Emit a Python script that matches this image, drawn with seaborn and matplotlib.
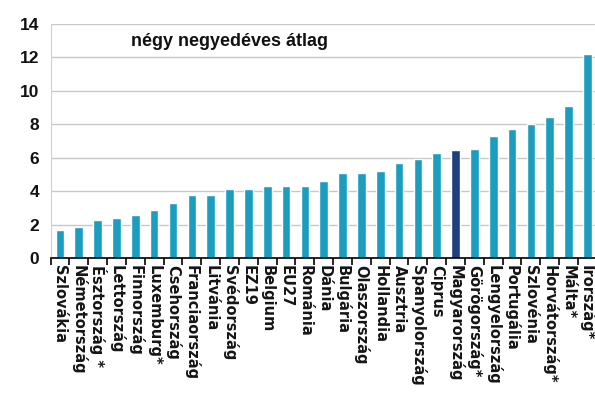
import numpy as np
import pandas as pd
import matplotlib
matplotlib.use("Agg")
import matplotlib.pyplot as plt
from matplotlib.ticker import MultipleLocator, FixedLocator
import seaborn as sns

countries = [
    "Szlovákia", "Németország", "Észtország *", "Lettország", "Finnország",
    "Luxemburg*", "Csehország", "Franciaország", "Litvánia", "Svédország",
    "EZ19", "Belgium", "EU27", "Románia", "Dánia", "Bulgária", "Olaszország",
    "Hollandia", "Ausztria", "Spanyolország", "Ciprus", "Magyarország",
    "Görögország*", "Lengyelország", "Portugália", "Szlovénia",
    "Horvátország*", "Málta*", "Írország*",
]
values = [
    1.65, 1.85, 2.3, 2.4, 2.6, 2.9, 3.3, 3.75, 3.75, 4.1,
    4.1, 4.3, 4.3, 4.3, 4.6, 5.1, 5.1, 5.2, 5.7, 5.95,
    6.25, 6.45, 6.5, 7.3, 7.7, 8.0, 8.45, 9.1, 12.2,
]
highlight = "Magyarország"
title = "négy negyedéves átlag"

base_color = "#1b9dc0"
hl_color = "#1e3f80"

df = pd.DataFrame({"country": countries, "value": values})
palette = {c: (hl_color if c == highlight else base_color) for c in countries}

sns.set_style("white")
plt.rcParams["font.family"] = ["Liberation Sans", "DejaVu Sans"]

fig = plt.figure(figsize=(5.95, 3.97), dpi=100)
ax = fig.add_axes([0.085, 0.350, 0.918, 0.590])

sns.barplot(data=df, x="country", y="value", hue="country", palette=palette,
            width=0.46, legend=False, ax=ax, saturation=1)

ax.set_xlim(-0.5, len(countries) - 0.5)
ax.set_ylim(0, 14)
ax.yaxis.set_major_locator(MultipleLocator(2))
ax.grid(axis="y", color="#c8c8c8", linewidth=1.0)
ax.set_axisbelow(True)

for side in ["top", "right"]:
    ax.spines[side].set_visible(False)
ax.spines["left"].set_color("#d0d0d0")
ax.spines["bottom"].set_color("black")
ax.spines["bottom"].set_linewidth(1.2)

ax.set_xlabel("")
ax.set_ylabel("")

# category separators as outward ticks
ax.xaxis.set_minor_locator(FixedLocator(np.arange(-0.5, len(countries), 1.0)))
ax.tick_params(axis="x", which="minor", length=5, width=1.2, color="black",
               direction="out", bottom=True)
ax.tick_params(axis="x", which="major", length=0, pad=5)
ax.tick_params(axis="y", length=0, pad=8)

ax.set_xticks(range(len(countries)))
ax.set_xticklabels(countries, rotation=270, ha="center", va="top",
                   fontsize=10.5, fontweight="bold", color="#151515",
                   family=["DejaVu Sans"])
for lbl in ax.get_yticklabels():
    lbl.set_fontsize(12.5)
    lbl.set_fontweight("bold")
    lbl.set_color("#111111")

ax.text(0.147, 0.923, title, transform=ax.transAxes, ha="left", va="center",
        fontsize=13, fontweight="bold", color="#111111")

fig.savefig("out.png", dpi=100)
